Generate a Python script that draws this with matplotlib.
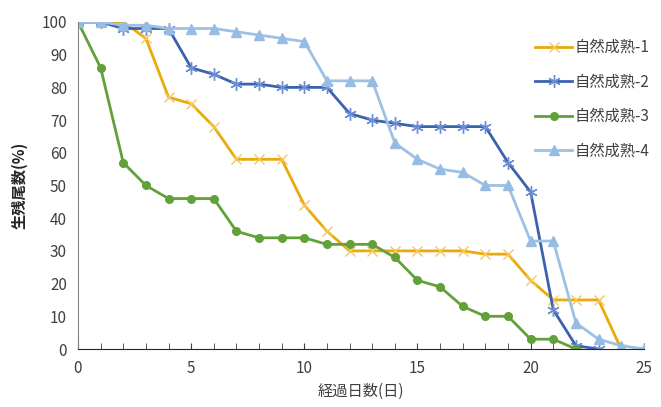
import matplotlib.pyplot as plt

plt.rcParams['font.family'] = ['Noto Sans CJK JP', 'DejaVu Sans']

days = list(range(26))
s1 = [100, 100, 100, 95, 77, 75, 68, 58, 58, 58, 44, 36, 30, 30, 30, 30, 30, 30, 29, 29, 21, 15, 15, 15, 0]
s2 = [100, 100, 98, 98, 98, 86, 84, 81, 81, 80, 80, 80, 72, 70, 69, 68, 68, 68, 68, 57, 48, 12, 1, 0]
s3 = [100, 86, 57, 50, 46, 46, 46, 36, 34, 34, 34, 32, 32, 32, 28, 21, 19, 13, 10, 10, 3, 3, 0]
s4 = [100, 100, 99, 99, 98, 98, 98, 97, 96, 95, 94, 82, 82, 82, 63, 58, 55, 54, 50, 50, 33, 33, 8, 3, 1, 0]
labels = ['自然成熟-1', '自然成熟-2', '自然成熟-3', '自然成熟-4']

fig = plt.figure(figsize=(6.61, 4.07), dpi=100)
ax = fig.add_axes([0.118, 0.1425, 0.856, 0.8035])

ax.plot(days[:len(s1)], s1, color='#E9AA0A', lw=2, marker='x', ms=7,
        mec='#F4C660', mew=1, label=labels[0])
ax.plot(days[:len(s2)], s2, color='#3A62AD', lw=2, marker=(6, 2, 0), ms=9,
        mec='#6D8ED3', mew=1, label=labels[1])
ax.plot(days[:len(s3)], s3, color='#62A03A', lw=2, marker='o', ms=5.5,
        mfc='#62A03A', mec='#62A03A', label=labels[2])
ax.plot(days[:len(s4)], s4, color='#9DC0E5', lw=2, marker='^', ms=7,
        mfc='#97BCE3', mec='#97BCE3', label=labels[3])

ax.set_xlim(0, 25)
ax.set_ylim(0, 100)
ax.set_xticks(range(0, 26, 5))
ax.set_xticks(range(26), minor=True)
ax.set_yticks(range(0, 101, 10))
ax.tick_params(axis='x', which='both', direction='in', length=4, color='#404040',
               labelsize=11, labelcolor='#404040', pad=8)
ax.tick_params(axis='y', length=0, labelsize=11, labelcolor='#404040', pad=8)
for s in ['top', 'right']:
    ax.spines[s].set_visible(False)
ax.spines['left'].set_color('#808080')
ax.spines['bottom'].set_color('#262626')

ax.set_xlabel('経過日数(日)', fontsize=11, color='#404040', labelpad=4)
ax.set_ylabel('生残尾数(%)', fontsize=11, color='#262626', fontweight='bold', labelpad=10)

ax.legend(loc='upper right', bbox_to_anchor=(1.035, 0.99), frameon=False,
          fontsize=11, labelcolor='#404040', handlelength=2.4, handletextpad=0.2,
          labelspacing=1.15)

fig.savefig('out.png')
